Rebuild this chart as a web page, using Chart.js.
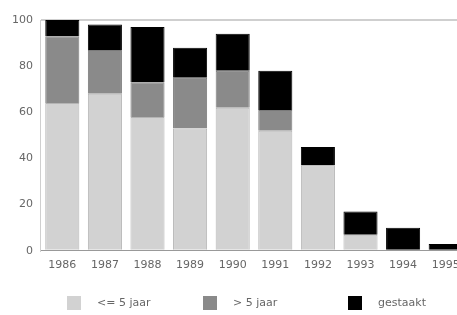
<!DOCTYPE html>
<html>
<head>
<meta charset="utf-8">
<script src="https://cdn.jsdelivr.net/npm/chart.js@4/dist/chart.umd.min.js"></script>
<style>
  html, body { margin: 0; padding: 0; background: #fff; overflow: hidden; }
  #wrap { width: 457px; height: 315px; overflow: hidden; }
</style>
</head>
<body>
<div id="wrap"><canvas id="grafiek" width="470" height="315"></canvas></div>
<script>
// Gegevens
const jaren = ['1986', '1987', '1988', '1989', '1990', '1991', '1992', '1993', '1994', '1995'];
const kort = [64, 68, 58, 53, 62, 52, 37, 7, 0, 0];      // <= 5 jaar
const lang = [29, 19, 15, 22, 16, 9, 0, 0, 0, 0];       // > 5 jaar
const gestaakt = [7, 11, 24, 13, 16, 17, 8, 10, 10, 3];
const yTicks = [0, 20, 40, 60, 80, 100];

const legendeX = [67, 203, 348];

// Legenda zelf tekenen (ruimere tussenafstand dan de standaard legenda)
const legendePlugin = {
  id: 'legende',
  afterDraw(chart) {
    const ctx = chart.ctx;
    ctx.save();
    ctx.font = '11px "DejaVu Sans"';
    ctx.textBaseline = 'middle';
    chart.data.datasets.forEach((ds, i) => {
      const x = legendeX[i];
      ctx.fillStyle = ds.backgroundColor;
      ctx.fillRect(x, 296, 14, 14);
      ctx.fillStyle = '#666';
      ctx.fillText(ds.label, x + 30, 303);
    });
    ctx.restore();
  }
};

const ctx = document.getElementById('grafiek').getContext('2d');
new Chart(ctx, {
  type: 'bar',
  data: {
    labels: jaren,
    datasets: [
      { label: '<= 5 jaar', data: kort, backgroundColor: '#d2d2d2', borderColor: '#b4b4b4', borderWidth: 1 },
      { label: '> 5 jaar', data: lang, backgroundColor: '#8a8a8a', borderColor: '#7a7a7a', borderWidth: 1 },
      { label: 'gestaakt', data: gestaakt, backgroundColor: '#000', borderColor: '#000', borderWidth: 1 }
    ]
  },
  options: {
    responsive: false,
    animation: false,
    layout: { padding: { top: 20, left: 4, right: 3, bottom: 43 } },
    datasets: { bar: { categoryPercentage: 1, barPercentage: 0.8 } },
    scales: {
      x: {
        stacked: true,
        grid: { display: false },
        border: { color: '#999' },
        ticks: { color: '#666', font: { family: 'DejaVu Sans', size: 11 }, padding: 0, maxRotation: 0 }
      },
      y: {
        stacked: true,
        min: 0,
        max: 100,
        afterBuildTicks: axis => { axis.ticks = yTicks.map(v => ({ value: v })); },
        grid: {
          drawTicks: false,
          color: c => (c.tick && c.tick.value === 100 ? '#cfcfcf' : 'rgba(0,0,0,0)'),
          lineWidth: 2
        },
        border: { color: '#cfcfcf' },
        ticks: { color: '#666', font: { family: 'DejaVu Sans', size: 11 }, padding: 8 }
      }
    },
    plugins: {
      legend: { display: false },
      tooltip: { enabled: false }
    }
  },
  plugins: [legendePlugin]
});
</script>
</body>
</html>
